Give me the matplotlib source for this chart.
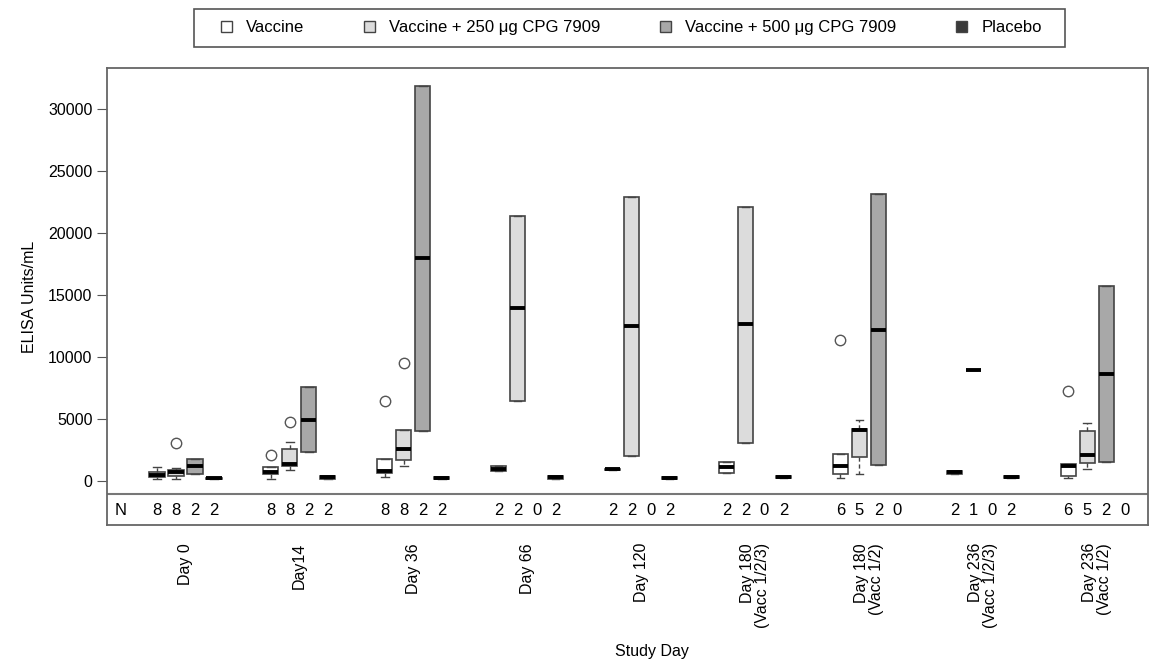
import matplotlib
matplotlib.use('Agg')
import matplotlib.pyplot as plt
from matplotlib.patches import Patch, Rectangle
import numpy as np

plt.rcParams['font.family'] = ['Liberation Sans', 'DejaVu Sans']

# ── Data ──────────────────────────────────────────────────────────────────────

days = ['Day 0', 'Day14', 'Day 36', 'Day 66', 'Day 120',
        'Day 180\n(Vacc 1/2/3)', 'Day 180\n(Vacc 1/2)',
        'Day 236\n(Vacc 1/2/3)', 'Day 236\n(Vacc 1/2)']

groups = ['Vaccine', 'Vaccine + 250 \u03bcg CPG 7909',
          'Vaccine + 500 \u03bcg CPG 7909', 'Placebo']

# N per group (rows: day, cols: group)
n_counts = [[8, 8, 2, 2], [8, 8, 2, 2], [8, 8, 2, 2], [2, 2, 0, 2], [2, 2, 0, 2],
            [2, 2, 0, 2], [6, 5, 2, 0], [2, 1, 0, 2], [6, 5, 2, 0]]

# five-number summaries: (whislo, q1, med, q3, whishi); None = no subjects
vaccine = [(160, 300, 480, 670, 1130), (160, 540, 700, 1070, 1100),
           (270, 630, 750, 1720, 1750), (750, 750, 950, 1150, 1150),
           (900, 900, 940, 980, 980), (620, 620, 1070, 1500, 1500),
           (210, 540, 1210, 2170, 2170), (550, 550, 670, 800, 800),
           (210, 350, 1150, 1340, 1340)]
vaccine_out = [[], [2040], [6460], [], [], [], [11400], [], [7270]]

cpg250 = [(160, 400, 720, 830, 1000), (860, 1200, 1310, 2550, 3140),
          (1150, 1690, 2550, 4100, 4100), (6410, 6410, 13920, 21420, 21420),
          (1960, 1960, 12470, 22950, 22950), (3030, 3030, 12630, 22120, 22120),
          (540, 1880, 4100, 4160, 4910), (8930, 8930, 8930, 8930, 8930),
          (940, 1470, 2090, 4020, 4640)]
cpg250_out = [[3080], [4770], [9520], [], [], [], [], [], []]

cpg500 = [(560, 560, 1200, 1770, 1770), (2280, 2280, 4910, 7590, 7590),
          (4050, 4050, 17960, 31880, 31880), None, None, None,
          (1230, 1230, 12150, 23170, 23170), None,
          (1500, 1500, 8610, 15690, 15690)]
cpg500_out = [[], [], [], [], [], [], [], [], []]

placebo = [(150, 150, 200, 250, 250), (170, 170, 270, 370, 370),
           (150, 150, 210, 270, 270), (170, 170, 270, 370, 370),
           (170, 170, 250, 330, 330), (200, 200, 300, 400, 400), None,
           (200, 200, 270, 340, 340), None]
placebo_out = [[], [], [], [], [], [], [], [], []]

fills = ['#ffffff', '#dcdcdc', '#a8a8a8', '#3a3a3a']

# ── Build box stats ───────────────────────────────────────────────────────────

series = [(vaccine, vaccine_out), (cpg250, cpg250_out),
          (cpg500, cpg500_out), (placebo, placebo_out)]

stats, positions, colors = [], [], []
for g, (summ, outs) in enumerate(series):
    for d, s in enumerate(summ):
        if s is None:
            continue
        lo, q1, med, q3, hi = s
        stats.append({'whislo': lo, 'q1': q1, 'med': med, 'q3': q3,
                      'whishi': hi, 'fliers': outs[d]})
        positions.append(6 * d + g)
        colors.append(fills[g])

# ── Figure ────────────────────────────────────────────────────────────────────

FS = 11.5

fig = plt.figure(figsize=(11.52, 6.65), dpi=100)
ax = fig.add_axes([0.0929, 0.2105, 0.9036, 0.6872])

edge = '#444444'
bp = ax.bxp(stats, positions=positions, widths=0.8, patch_artist=True,
            capwidths=0.4,
            boxprops=dict(edgecolor=edge, linewidth=1.2),
            medianprops=dict(color='black', linewidth=2.8, solid_capstyle='butt'),
            whiskerprops=dict(color=edge, linewidth=1.0, linestyle=(0, (3, 2))),
            capprops=dict(color=edge, linewidth=1.0),
            flierprops=dict(marker='o', markerfacecolor='none',
                            markeredgecolor='#555555', markersize=7.5,
                            markeredgewidth=1.0))
for patch, c in zip(bp['boxes'], colors):
    patch.set_facecolor(c)

ax.set_xlim(-2.63, 52.2)
ax.set_ylim(-3580, 33340)

# separator for the N row
ax.axhline(-1070, color='#777777', linewidth=1.5)
ax.text(-1.9, -2400, 'N', ha='center', va='center', fontsize=FS + 0.5)
for d in range(len(days)):
    for g in range(4):
        ax.text(6 * d + g, -2400, str(n_counts[d][g]), ha='center',
                va='center', fontsize=FS + 0.5)

ax.set_yticks(np.arange(0, 30001, 5000))
ax.tick_params(axis='y', labelsize=FS, length=7, color='#555555')
ax.set_xticks([6 * d + 1.5 for d in range(len(days))])
ax.set_xticklabels(days, rotation=90, fontsize=FS, va='top', ha='center',
                   linespacing=1.0, multialignment='right')
ax.tick_params(axis='x', length=0, pad=13)

for sp in ax.spines.values():
    sp.set_color('#666666')
    sp.set_linewidth(1.3)

ax.set_ylabel('ELISA Units/mL', fontsize=FS, labelpad=8)
fig.text(0.5655, 0.014, 'Study Day', ha='center', fontsize=FS)

# legend: frameless entries plus a separate box like the original
handles = [Patch(facecolor=c, edgecolor=edge, linewidth=1.0) for c in fills]
leg = fig.legend(handles, groups, loc='center', bbox_to_anchor=(0.548, 0.958),
                 ncol=4, fontsize=12, frameon=False,
                 handlelength=0.66, handleheight=0.66,
                 columnspacing=3.6, handletextpad=0.84)
fig.patches.append(Rectangle((194 / 1152, 1 - 46.7 / 665), (1065 - 194) / 1152,
                             37.2 / 665, transform=fig.transFigure,
                             facecolor='none', edgecolor='#555555',
                             linewidth=1.2))

fig.savefig('out.png', dpi=100)
